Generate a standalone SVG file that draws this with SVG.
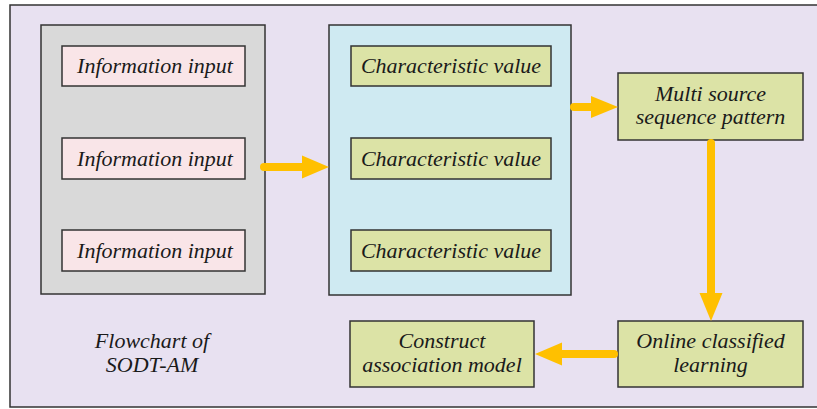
<svg xmlns="http://www.w3.org/2000/svg" width="817" height="409" viewBox="0 0 817 409">
<style>
text{font-family:"Liberation Serif","Times New Roman",serif;font-style:italic;font-size:22px;fill:#1a1a1a;text-anchor:middle}
.box{stroke:#333;stroke-width:1.5}
.pink{fill:#F9E5E8}
.green{fill:#DCE3A6}
.shaft{stroke:#FFC000;stroke-width:8;stroke-linecap:round;fill:none}
.head{fill:#FFC000}
</style>
<rect x="0" y="0" width="817" height="409" fill="#ffffff"/>
<rect id="frame" x="10" y="5" width="820" height="402" fill="#E8E1F1" stroke="#333" stroke-width="1.5"/>
<g id="input-group">
<rect class="box" x="41" y="25" width="224" height="269" fill="#D9D9D9"/>
</g>
<g id="input1"><rect class="box pink" x="62" y="46" width="183" height="40"/><text x="155" y="73">Information input</text></g>
<g id="input2"><rect class="box pink" x="62" y="138" width="183" height="41"/><text x="155" y="165.5">Information input</text></g>
<g id="input3"><rect class="box pink" x="62" y="230" width="183" height="41"/><text x="155" y="257.5">Information input</text></g>
<g id="feature-group">
<rect class="box" x="329" y="25" width="242" height="270" fill="#CFEAF2"/>
</g>
<g id="feature1"><rect class="box green" x="351" y="46" width="200" height="40"/><text x="451" y="73">Characteristic value</text></g>
<g id="feature2"><rect class="box green" x="351" y="138" width="200" height="41"/><text x="451" y="165.5">Characteristic value</text></g>
<g id="feature3"><rect class="box green" x="351" y="230" width="200" height="41"/><text x="451" y="257.5">Characteristic value</text></g>
<g id="multi"><rect class="box green" x="618" y="73" width="185" height="67"/><text x="710.5" y="100.5">Multi source</text><text x="710.5" y="124">sequence pattern</text></g>
<g id="online"><rect class="box green" x="618" y="321" width="185" height="66"/><text x="710.5" y="348">Online classified</text><text x="710.5" y="372">learning</text></g>
<g id="construct"><rect class="box green" x="350" y="321" width="184" height="66"/><text x="442" y="348">Construct</text><text x="442" y="372">association model</text></g>
<g id="caption"><text x="152" y="348">Flowchart of</text><text x="152" y="372">SODT-AM</text></g>
<g id="connectors">
<line class="shaft" x1="264" y1="167" x2="306" y2="167"/><polygon class="head" points="302,155.5 329,167 302,178.5"/>
<line class="shaft" x1="574" y1="107" x2="595" y2="107"/><polygon class="head" points="591,96 618,107 591,118"/>
<line class="shaft" x1="711" y1="143" x2="711" y2="297"/><polygon class="head" points="699.5,293 711,321 722.5,293"/>
<line class="shaft" x1="614" y1="354" x2="558" y2="354"/><polygon class="head" points="562,342.5 535,354 562,365.5"/>
</g>
</svg>
